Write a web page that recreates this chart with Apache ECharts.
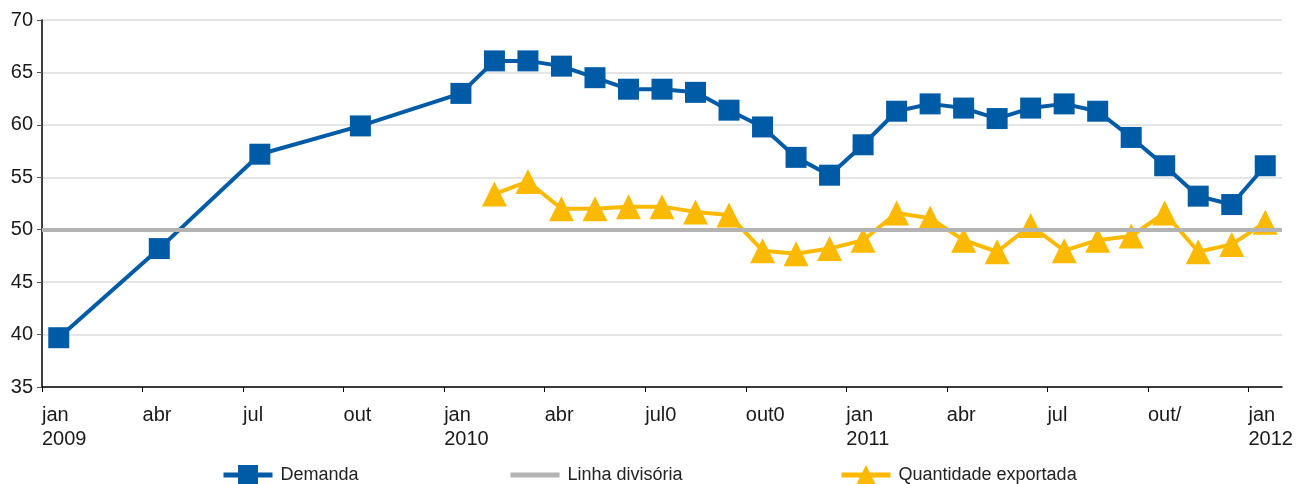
<!DOCTYPE html>
<html>
<head>
<meta charset="utf-8">
<script src="https://cdn.jsdelivr.net/npm/echarts@6/dist/echarts.min.js"></script>
<style>
  html, body { margin: 0; padding: 0; background: #fff; }
  #chart { width: 1307px; height: 484px; }
</style>
</head>
<body>
<div id="chart"></div>
<script>
// meses de jan/2009 a jan/2012 (37 posições)
var meses = [
	'jan/09','fev/09','mar/09','abr/09','mai/09','jun/09','jul/09','ago/09','set/09','out/09','nov/09','dez/09',
	'jan/10','fev/10','mar/10','abr/10','mai/10','jun/10','jul/10','ago/10','set/10','out/10','nov/10','dez/10',
	'jan/11','fev/11','mar/11','abr/11','mai/11','jun/11','jul/11','ago/11','set/11','out/11','nov/11','dez/11',
	'jan/12'
];
// rótulos do eixo x, um a cada trimestre
var rotulosX = ['jan\n2009','abr','jul','out','jan\n2010','abr','jul0','out0','jan\n2011','abr','jul','out/','jan\n2012'];

var demanda = [
	39.7, null, null, 48.2, null, null, 57.2, null, null, 59.9, null, null,
	63.0, 66.1, 66.1, 65.6, 64.5, 63.4, 63.4, 63.1, 61.4, 59.8, 56.9, 55.2,
	58.1, 61.3, 62.0, 61.6, 60.6, 61.6, 62.0, 61.3, 58.8, 56.1, 53.2, 52.4,
	56.1
];
var exportada = [
	null, null, null, null, null, null, null, null, null, null, null, null,
	null, 53.4, 54.6, 52.0, 52.0, 52.2, 52.2, 51.7, 51.4, 48.0, 47.7, 48.2,
	49.0, 51.6, 51.1, 49.0, 47.9, 50.4, 48.0, 49.0, 49.4, 51.6, 47.9, 48.6,
	50.7
];
var linhaDivisoria = 50;

var fonte = "'Liberation Sans', Arial, sans-serif";
var azul = '#005ba6', amarelo = '#fbba00', cinza = '#b3b3b3';

// cada mês ocupa uma faixa; o ponto fica no meio dela
function toPontos(valores) {
	var out = [];
	for (var i = 0; i < valores.length; i++) {
		out.push([i + 0.5, valores[i]]);
	}
	return out;
}

function legenda(nome, left) {
	return {
		top: 465,
		left: left,
		padding: 0,
		itemWidth: 49,
		itemHeight: 25,
		lineStyle: { width: 5 },
		textStyle: { fontSize: 18, color: '#222', fontFamily: fonte, padding: [0, 0, 0, 3] },
		data: [nome]
	};
}

var chart = echarts.init(document.getElementById('chart'));
var option = {
	animation: false,
	textStyle: { fontFamily: fonte },
	grid: { left: 42, right: 25, top: 20, bottom: 97, containLabel: false },
	legend: [
		legenda('Demanda', 221),
		legenda('Linha divisória', 508),
		legenda('Quantidade exportada', 839)
	],
	xAxis: {
		type: 'value',
		min: 0,
		max: meses.length,
		interval: 3,
		splitLine: { show: false },
		axisLine: { show: true, lineStyle: { color: '#000', width: 1.5 } },
		axisTick: { show: true, length: 5, lineStyle: { color: '#000', width: 1 } },
		axisLabel: {
			align: 'left',
			margin: 16,
			fontSize: 20,
			lineHeight: 24,
			color: '#1a1a1a',
			showMaxLabel: false,
			formatter: function (v) {
				var k = v / 3;
				if (v % 3 === 0 && k < rotulosX.length) return rotulosX[k];
				return '';
			}
		}
	},
	yAxis: {
		type: 'value',
		min: 35,
		max: 70,
		interval: 5,
		axisLine: { show: true, lineStyle: { color: '#000', width: 1.5 } },
		axisTick: { show: true, length: 5, lineStyle: { color: '#555' } },
		axisLabel: { fontSize: 20, color: '#1a1a1a', margin: 9 },
		splitLine: { show: true, lineStyle: { color: '#dcdcdc', width: 1.5 } }
	},
	series: [{
		name: 'Linha divisória',
		type: 'line',
		symbol: 'none',
		data: [],
		lineStyle: { color: cinza, width: 5 },
		itemStyle: { color: 'rgba(0,0,0,0)', borderWidth: 0 },
		markLine: {
			silent: true,
			symbol: 'none',
			label: { show: false },
			lineStyle: { color: cinza, width: 4, type: 'solid' },
			data: [{ yAxis: linhaDivisoria }]
		}
	}, {
		name: 'Demanda',
		type: 'line',
		connectNulls: true,
		symbol: 'rect',
		symbolSize: 21,
		lineStyle: { color: azul, width: 4 },
		itemStyle: { color: azul },
		data: toPontos(demanda)
	}, {
		name: 'Quantidade exportada',
		type: 'line',
		connectNulls: true,
		symbol: 'triangle',
		symbolSize: 25,
		lineStyle: { color: amarelo, width: 4 },
		itemStyle: { color: amarelo },
		data: toPontos(exportada)
	}]
};
chart.setOption(option);
</script>
</body>
</html>
